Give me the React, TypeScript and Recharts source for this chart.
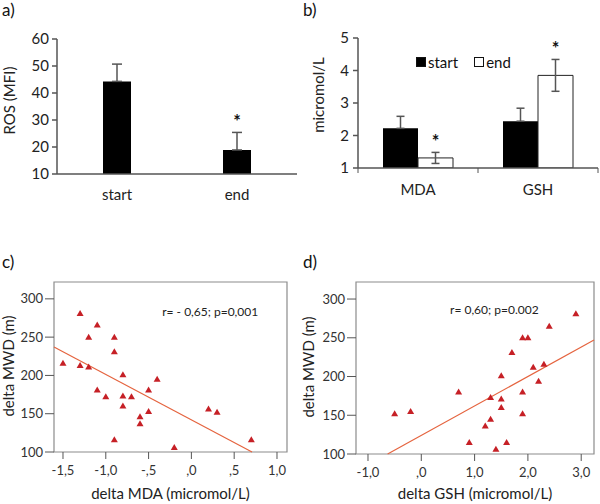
import React from "react";
import {
  BarChart,
  Bar,
  XAxis,
  YAxis,
  ErrorBar,
  LabelList,
  Legend,
  ScatterChart,
  Scatter,
  ReferenceArea,
  ReferenceLine,
  ReferenceDot,
} from "recharts";

const FONT = "Lato, 'Open Sans', sans-serif";
const INK = "#222";
const AXIS = "#555";
const DOT = "#C62026";
const FIT = "#E5643F";

// a) ROS
const rosGroups = ["start", "end"];
const rosMean = [44.3, 18.9];
const rosErr = [6.4, 6.5];
const rosSig = ["", "*"];
const rosTicks = [10, 20, 30, 40, 50, 60];

// b) MDA / GSH
const seriesNames = ["start", "end"];
const markers = ["MDA", "GSH"];
const startMean = [2.22, 2.44];
const startErr = [0.37, 0.4];
const endMean = [1.31, 3.85];
const endErr = [0.17, 0.49];
const endSig = ["*", "*"];
const markerTicks = [1, 2, 3, 4, 5];

// c) delta MDA vs delta MWD
const mdaDelta = [
  -1.5, -1.3, -1.3, -1.2, -1.2, -1.1, -1.1, -1.0, -0.9, -0.9, -0.9, -0.8,
  -0.8, -0.8, -0.7, -0.6, -0.6, -0.5, -0.5, -0.4, -0.2, 0.2, 0.3, 0.7,
];
const mwdVsMda = [
  216, 281, 213, 250, 211, 266, 181, 172, 250, 231, 116, 201, 173, 160, 172,
  146, 137, 181, 153, 195, 106, 156, 152, 116,
];
const mdaFit = { slope: -59.3, intercept: 142 };
const mdaStat = "r= - 0,65; p=0,001";
const mdaTicks = [-1.5, -1, -0.5, 0, 0.5, 1];
const mdaDomain = [-1.605, 1.117];

// d) delta GSH vs delta MWD
const gshDelta = [
  -0.5, -0.2, 0.7, 0.9, 1.2, 1.3, 1.3, 1.4, 1.5, 1.5, 1.5, 1.6, 1.7, 1.9, 2.0,
  1.9, 1.9, 2.1, 2.2, 2.3, 2.4, 2.9,
];
const mwdVsGsh = [
  152, 155, 180, 115, 136, 173, 145, 106, 201, 171, 160, 115, 231, 250, 250,
  180, 152, 212, 194, 216, 265, 281,
];
const gshFit = { slope: 38, intercept: 124 };
const gshStat = "r= 0,60; p=0.002";
const gshTicks = [-1, 0, 1, 2, 3];
const gshDomain = [-1.225, 3.24];

const mwdTicks = [100, 150, 200, 250, 300];
const mwdDomain = [100, 322];

const rosData = rosGroups.map((g, i) => ({
  group: g,
  ros: rosMean[i],
  err: [0, rosErr[i]],
  sig: rosSig[i],
}));

const markerData = markers.map((m, i) => ({
  marker: m,
  start: startMean[i],
  startE: [0, startErr[i]],
  end: endMean[i],
  endE: endErr[i],
  sig: endSig[i],
}));

const mdaPoints = mdaDelta.map((x, i) => ({ x, y: mwdVsMda[i] }));
const gshPoints = gshDelta.map((x, i) => ({ x, y: mwdVsGsh[i] }));

const fitSegment = (fit, lo, hi, yMin) => {
  const xAtMin = (yMin - fit.intercept) / fit.slope;
  const a = Math.max(lo, Math.min(xAtMin, hi));
  const b = fit.slope < 0 ? lo : hi;
  const pts = [a, b].sort((p, q) => p - q);
  return pts.map((x) => ({ x, y: fit.intercept + fit.slope * x }));
};

// SPSS style: 0,5 -> ,5
const spssNum = (v) =>
  v.toFixed(1).replace(".", ",").replace(/^(-?)0,/, "$1,");

const YTitle = ({ viewBox, text, dx = 0, dy = 0, size = 15 }) => {
  const x = viewBox.x + dx;
  const y = viewBox.y + viewBox.height / 2 + dy;
  return (
    <text
      x={x}
      y={y}
      transform={`rotate(-90 ${x} ${y})`}
      textAnchor="middle"
      dominantBaseline="central"
      fontFamily={FONT}
      fontSize={size}
      fill={INK}
    >
      {text}
    </text>
  );
};

const XTitle = ({ viewBox, text, dy = 0 }) => (
  <text
    x={viewBox.x + viewBox.width / 2}
    y={viewBox.y + dy}
    textAnchor="middle"
    dominantBaseline="central"
    fontFamily={FONT}
    fontSize={15}
    fill={INK}
  >
    {text}
  </text>
);

// asterisk placed above the error bar of the bar it belongs to
const makeStar = (mean, err, base) => (props) => {
  const vb = props.viewBox || props;
  if (!props.value) return null;
  const i = props.index;
  const perUnit = vb.height / (mean[i] - base);
  const top = vb.y - err[i] * perUnit;
  return (
    <text
      x={vb.x + vb.width / 2}
      y={top - 4}
      textAnchor="middle"
      fontFamily={FONT}
      fontSize={18}
      fontWeight="bold"
      fill="#111"
    >
      *
    </text>
  );
};

const BandTick = (props) => {
  const { x, y, payload, index } = props;
  const half = payload.offset || 60;
  const axisY = y - 16;
  return (
    <g>
      <text
        x={x}
        y={y}
        dy="0.71em"
        textAnchor="middle"
        fontFamily={FONT}
        fontSize={15}
        fill={INK}
      >
        {payload.value}
      </text>
      <line x1={x + half} y1={axisY} x2={x + half} y2={axisY + 5} stroke={AXIS} />
      {index === 0 && (
        <line x1={x - half} y1={axisY} x2={x - half} y2={axisY + 5} stroke={AXIS} />
      )}
    </g>
  );
};

const LegendBox = ({ payload }) => {
  const items = [...(payload || [])].sort(
    (p, q) => seriesNames.indexOf(p.value) - seriesNames.indexOf(q.value)
  );
  return (
    <div
      style={{
        display: "flex",
        alignItems: "center",
        fontFamily: FONT,
        fontSize: 15,
        color: "#111",
        lineHeight: "18px",
      }}
    >
      {items.map((p) => (
        <span
          key={p.value}
          style={{ display: "flex", alignItems: "center", marginRight: 16 }}
        >
          <span
            style={{
              width: 10,
              height: 10,
              boxSizing: "border-box",
              background: p.color,
              border: "1px solid #111",
              marginRight: 2,
            }}
          />
          {p.value}
        </span>
      ))}
    </div>
  );
};

const Triangle = (props) => {
  const { cx, cy } = props;
  return (
    <polygon
      points={`${cx - 3.5},${cy + 2.5} ${cx + 3.5},${cy + 2.5} ${cx},${cy - 3.5}`}
      fill={DOT}
    />
  );
};

const panelLabel = (text, left, top) => (
  <div
    style={{
      position: "absolute",
      left,
      top,
      fontFamily: FONT,
      fontSize: 17,
      color: "#111",
      lineHeight: "20px",
    }}
  >
    {text}
  </div>
);

const axisTick13 = { fontFamily: FONT, fontSize: 13, fill: "#333" };
const axisTick15 = { fontFamily: FONT, fontSize: 15, fill: INK };

const ScatterPanel = ({ points, fit, stat, statAt, ticks, domain, title, yW, right, xH, titleDy }) => {
  const seg = fitSegment(fit, domain[0], domain[1], mwdDomain[0]);
  return (
    <ScatterChart
      width={300}
      height={254}
      margin={{ top: 32, right, bottom: 0, left: 0 }}
    >
      <XAxis
        type="number"
        dataKey="x"
        domain={domain}
        ticks={ticks}
        allowDataOverflow
        tickFormatter={spssNum}
        axisLine={false}
        tickLine={{ stroke: AXIS }}
        tickSize={7}
        tickMargin={7}
        height={xH}
        tick={axisTick13}
        label={<XTitle text={title} dy={titleDy} />}
      />
      <YAxis
        type="number"
        dataKey="y"
        domain={mwdDomain}
        ticks={mwdTicks}
        allowDataOverflow
        axisLine={false}
        tickLine={{ stroke: AXIS }}
        tickSize={9}
        tickMargin={2}
        width={yW}
        tick={axisTick13}
        label={<YTitle text="delta MWD (m)" dx={8} dy={-1} />}
      />
      <ReferenceArea
        x1={domain[0]}
        x2={domain[1]}
        y1={mwdDomain[0]}
        y2={mwdDomain[1]}
        fill="none"
        stroke="#8c8c8c"
        strokeWidth={1.2}
        ifOverflow="visible"
      />
      <ReferenceLine segment={seg} stroke={FIT} strokeWidth={1.2} ifOverflow="visible" />
      <ReferenceDot
        x={statAt[0]}
        y={statAt[1]}
        r={0}
        fill="none"
        stroke="none"
        label={{
          value: stat,
          position: "center",
          fontFamily: FONT,
          fontSize: 12,
          fill: INK,
        }}
      />
      <Scatter data={points} shape={<Triangle />} isAnimationActive={false} />
    </ScatterChart>
  );
};

export default function App() {
  return (
    <div
      style={{
        position: "absolute",
        left: 0,
        top: 0,
        width: 600,
        height: 504,
        background: "#fff",
      }}
    >
      {panelLabel("a)", 2, 0)}
      {panelLabel("b)", 303, 0)}
      {panelLabel("c)", 2, 252)}
      {panelLabel("d)", 303, 252)}

      <div style={{ position: "absolute", left: 0, top: 0 }}>
        <BarChart
          width={300}
          height={210}
          data={rosData}
          margin={{ top: 39, right: 3, bottom: 6, left: 0 }}
        >
          <XAxis
            dataKey="group"
            axisLine={{ stroke: AXIS, strokeWidth: 1.5 }}
            tickLine={false}
            tickSize={5}
            tickMargin={10}
            height={30}
            tick={axisTick15}
          />
          <YAxis
            domain={[10, 60]}
            ticks={rosTicks}
            allowDataOverflow
            width={57}
            axisLine={{ stroke: AXIS, strokeWidth: 1.5 }}
            tickLine={{ stroke: AXIS, strokeWidth: 1.5 }}
            tickSize={5}
            tickMargin={3}
            tick={axisTick15}
            label={<YTitle text="ROS (MFI)" dx={9} dy={-6} />}
          />
          <Bar dataKey="ros" fill="#000" barSize={28} isAnimationActive={false}>
            <ErrorBar
              dataKey="err"
              width={5}
              stroke={AXIS}
              strokeWidth={1.5}
              isAnimationActive={false}
            />
            <LabelList dataKey="sig" content={makeStar(rosMean, rosErr, 10)} />
          </Bar>
        </BarChart>
      </div>

      <div style={{ position: "absolute", left: 300, top: 0 }}>
        <BarChart
          width={300}
          height={210}
          data={markerData}
          margin={{ top: 38, right: 2, bottom: 12, left: 0 }}
          barGap={0}
          barCategoryGap={25}
        >
          <XAxis
            dataKey="marker"
            axisLine={{ stroke: AXIS, strokeWidth: 1.5 }}
            tickLine={false}
            tickSize={4}
            tickMargin={12}
            height={30}
            interval={0}
            tick={<BandTick />}
          />
          <YAxis
            domain={[1, 5]}
            ticks={markerTicks}
            allowDataOverflow
            width={58}
            axisLine={{ stroke: AXIS, strokeWidth: 1.5 }}
            tickLine={{ stroke: AXIS, strokeWidth: 1.5 }}
            tickSize={5}
            tickMargin={4}
            tick={axisTick15}
            label={<YTitle text="micromol/L" dx={18} dy={-8} />}
          />
          <Legend
            layout="horizontal"
            verticalAlign="middle"
            align="center"
            content={<LegendBox />}
            wrapperStyle={{ top: 53, left: 116, width: "auto" }}
          />
          <Bar
            dataKey="start"
            name={seriesNames[0]}
            fill="#000"
            barSize={35}
            isAnimationActive={false}
          >
            <ErrorBar
              dataKey="startE"
              width={4}
              stroke={AXIS}
              strokeWidth={1.5}
              isAnimationActive={false}
            />
          </Bar>
          <Bar
            dataKey="end"
            name={seriesNames[1]}
            fill="#fff"
            stroke="#222"
            strokeWidth={1}
            barSize={35}
            isAnimationActive={false}
          >
            <ErrorBar
              dataKey="endE"
              width={4}
              stroke={AXIS}
              strokeWidth={1.5}
              isAnimationActive={false}
            />
            <LabelList dataKey="sig" content={makeStar(endMean, endErr, 1)} />
          </Bar>
        </BarChart>
      </div>

      <div style={{ position: "absolute", left: 0, top: 250 }}>
        <ScatterPanel
          points={mdaPoints}
          fit={mdaFit}
          stat={mdaStat}
          statAt={[0.22, 283]}
          ticks={mdaTicks}
          domain={mdaDomain}
          title="delta MDA (micromol/L)"
          yW={54}
          right={13}
          xH={52}
          titleDy={41}
        />
      </div>

      <div style={{ position: "absolute", left: 300, top: 250 }}>
        <ScatterPanel
          points={gshPoints}
          fit={gshFit}
          stat={gshStat}
          statAt={[1.37, 286]}
          ticks={gshTicks}
          domain={gshDomain}
          title="delta GSH (micromol/L)"
          yW={56}
          right={6}
          xH={50}
          titleDy={39}
        />
      </div>
    </div>
  );
}
